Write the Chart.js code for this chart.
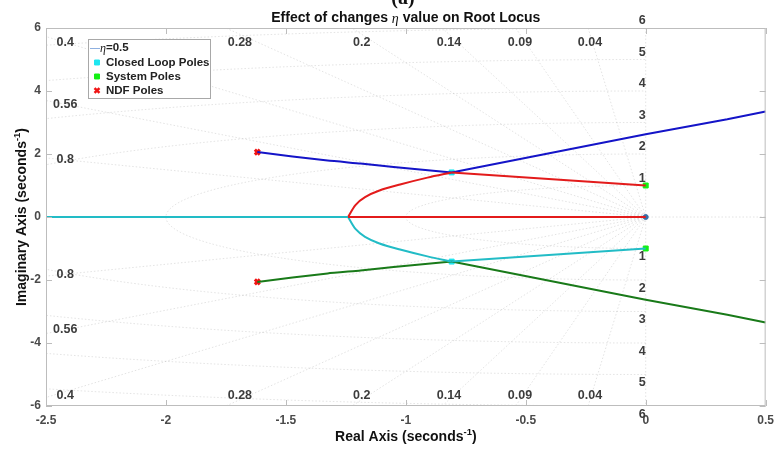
<!DOCTYPE html>
<html>
<head>
<meta charset="utf-8">
<script src="https://cdn.jsdelivr.net/npm/chart.js@4.4.1/dist/chart.umd.min.js"></script>
<style>
  html, body { margin: 0; padding: 0; background: #fff; }
  #wrap { width: 781px; height: 450px; position: relative; }
</style>
</head>
<body>
<div id="wrap"><canvas id="locus"></canvas></div>
<script>
// axis limits and ticks
const realLimits = [-2.5, 0.5];
const imagLimits = [-6, 6];
const realTicks = [-2.5, -2, -1.5, -1, -0.5, 0, 0.5];
const imagTicks = [-6, -4, -2, 0, 2, 4, 6];

// sgrid
const dampingRatios = [0.04, 0.09, 0.14, 0.2, 0.28, 0.4, 0.56, 0.8];
const dampingLabels = ['0.04', '0.09', '0.14', '0.2', '0.28', '0.4', '0.56', '0.8'];
const naturalFreqs = [1, 2, 3, 4, 5, 6];

// locus branches
const negAxisRe = [-2.5, -1.241];
const negAxisIm = [0, 0];
const redAxisRe = [-1.241, 0];
const redAxisIm = [0, 0];
const sysToMarkerRe = [0, -0.809];
const sysToMarkerIm = [1.0, 1.415];
const breakCurveRe = [-0.809, -0.91, -1.02, -1.11, -1.17, -1.21, -1.241];
const breakCurveIm = [1.415, 1.25, 1.04, 0.84, 0.63, 0.38, 0];
const ndfBranchRe = [-1.619, -1.326, -1.189, -1.051, -0.809];
const ndfBranchIm = [2.06, 1.79, 1.70, 1.59, 1.415];
const outBranchRe = [-0.809, 0, 0.34, 0.5];
const outBranchIm = [1.415, 2.63, 3.1, 3.35];

// poles
const closedLoopRe = [-0.809, -0.809];
const closedLoopIm = [1.415, -1.415];
const systemPoleRe = [0, 0];
const systemPoleIm = [1.0, -1.0];
const ndfPoleRe = [-1.619, -1.619];
const ndfPoleIm = [2.06, -2.06];
const originRe = [0];
const originIm = [0];

const COLORS = {
  blue: '#1414c8',
  red: '#e31b1b',
  cyan: '#22bcc6',
  green: '#197a19',
  cyanMark: '#1ee6f0',
  greenMark: '#14f014',
  redMark: '#f01414',
  grid: 'rgba(150,150,150,0.38)',
  text: '#4a4a4a'
};

const pts = (re, im, flip) => re.map((x, i) => ({ x, y: flip ? -im[i] : im[i] }));

function lineSet(label, data, color, tension) {
  return {
    label, data, showLine: true, borderColor: color, borderWidth: 2,
    pointRadius: 0, tension: tension || 0, fill: false
  };
}

function markSet(label, data, style, color, radius) {
  return {
    label, data, showLine: false, pointStyle: style, pointRadius: radius,
    backgroundColor: color, borderColor: color, borderWidth: style === 'crossRot' ? 3 : 1
  };
}

const sgridPlugin = {
  id: 'sgrid',
  beforeDatasetsDraw(chart) {
    const { ctx, chartArea: a, scales: { x, y } } = chart;
    const ox = x.getPixelForValue(0), oy = y.getPixelForValue(0);
    const kx = x.getPixelForValue(1) - ox, ky = oy - y.getPixelForValue(1);
    ctx.save();
    ctx.beginPath();
    ctx.rect(a.left, a.top, a.right - a.left, a.bottom - a.top);
    ctx.clip();
    ctx.strokeStyle = COLORS.grid;
    ctx.lineWidth = 0.7;
    ctx.setLineDash([1.5, 2]);
    dampingRatios.forEach((z) => {
      const s = Math.sqrt(1 - z * z);
      [1, -1].forEach((sign) => {
        ctx.beginPath();
        ctx.moveTo(ox, oy);
        ctx.lineTo(x.getPixelForValue(-20 * z), y.getPixelForValue(sign * 20 * s));
        ctx.stroke();
      });
    });
    naturalFreqs.forEach((w) => {
      ctx.beginPath();
      ctx.ellipse(ox, oy, w * kx, w * ky, 0, Math.PI / 2, Math.PI * 1.5);
      ctx.stroke();
    });
    ctx.beginPath();
    ctx.moveTo(a.left, oy); ctx.lineTo(a.right, oy);
    ctx.moveTo(ox, a.top); ctx.lineTo(ox, a.bottom);
    ctx.stroke();
    ctx.restore();
  },
  afterDatasetsDraw(chart) {
    const { ctx, chartArea: a, scales: { x, y } } = chart;
    ctx.save();
    // box + inner ticks
    ctx.strokeStyle = '#bdbdbd';
    ctx.lineWidth = 1;
    ctx.strokeRect(a.left + 0.5, a.top + 0.5, a.right - a.left - 1, a.bottom - a.top - 1);
    ctx.beginPath();
    realTicks.forEach((v) => {
      const px = Math.round(x.getPixelForValue(v)) + 0.5;
      ctx.moveTo(px, a.bottom); ctx.lineTo(px, a.bottom - 6);
      ctx.moveTo(px, a.top); ctx.lineTo(px, a.top + 6);
    });
    imagTicks.forEach((v) => {
      const py = Math.round(y.getPixelForValue(v)) + 0.5;
      ctx.moveTo(a.left, py); ctx.lineTo(a.left + 6, py);
      ctx.moveTo(a.right, py); ctx.lineTo(a.right - 6, py);
    });
    ctx.stroke();

    // damping labels
    ctx.fillStyle = '#3c3c3c';
    ctx.font = 'bold 12.5px "Liberation Sans", Arial, sans-serif';
    ctx.textAlign = 'center';
    ctx.textBaseline = 'middle';
    dampingRatios.forEach((z, i) => {
      const s = Math.sqrt(1 - z * z);
      let re = -5.8 * z / s, im = 5.55;
      if (re < -2.42) { re = -2.42; im = 2.42 * s / z; }
      const lx = x.getPixelForValue(re);
      ctx.fillText(dampingLabels[i], lx, y.getPixelForValue(im));
      ctx.fillText(dampingLabels[i], lx, y.getPixelForValue(im > 5 ? -5.68 : -im));
    });
    // natural frequency labels
    ctx.textAlign = 'right';
    naturalFreqs.forEach((w) => {
      const lx = x.getPixelForValue(0);
      ctx.textBaseline = 'bottom';
      ctx.fillText(String(w), lx, y.getPixelForValue(w) - 1);
      ctx.textBaseline = 'top';
      ctx.fillText(String(w), lx, y.getPixelForValue(-w) + 2);
    });

    // legend
    const L = { x: 88, y: 39, w: 122, h: 59 };
    ctx.fillStyle = '#fff';
    ctx.fillRect(L.x, L.y, L.w, L.h);
    ctx.strokeStyle = '#a8a8a8';
    ctx.strokeRect(L.x + 0.5, L.y + 0.5, L.w, L.h);
    ctx.textAlign = 'left';
    ctx.textBaseline = 'middle';
    ctx.fillStyle = '#222';
    ctx.strokeStyle = '#8fb0e0';
    ctx.beginPath(); ctx.moveTo(90, 48.5); ctx.lineTo(100, 48.5); ctx.stroke();
    ctx.font = 'italic 12px "Liberation Serif", serif';
    ctx.fillText('\u03b7', 100, 49);
    ctx.font = 'bold 11.5px "Liberation Sans", Arial, sans-serif';
    ctx.fillText('=0.5', 106, 48);
    const rows = [
      ['Closed Loop Poles', COLORS.cyanMark, 'rect', 62.5],
      ['System Poles', COLORS.greenMark, 'rect', 76.5],
      ['NDF Poles', COLORS.redMark, 'crossRot', 90.5]
    ];
    rows.forEach(([t, c, st, ry]) => {
      ctx.fillStyle = c; ctx.strokeStyle = c;
      const bw = st === 'crossRot' ? 2.5 : 1;
      ctx.lineWidth = bw;
      Chart.helpers.drawPoint(ctx, { pointStyle: st, radius: 3.5, rotation: 0, borderWidth: bw }, 97, ry);
      ctx.fillStyle = '#222';
      ctx.fillText(t, 106, ry);
    });
    ctx.restore();
  },
  afterDraw(chart) {
    const { ctx, chartArea: a } = chart;
    const cx = (a.left + a.right) / 2;
    ctx.save();
    ctx.fillStyle = '#111';
    // "(a)" peeking above
    ctx.font = 'bold 20px "Liberation Serif", serif';
    ctx.textAlign = 'center';
    ctx.textBaseline = 'alphabetic';
    ctx.fillText('(a)', 403, 4);
    // title
    const p1 = 'Effect of changes ', eta = '\u03b7', p2 = ' value on Root Locus';
    const fb = 'bold 14px "Liberation Sans", Arial, sans-serif';
    const fe = 'italic 14px "Liberation Serif", serif';
    ctx.font = fb; const w1 = ctx.measureText(p1).width, w3 = ctx.measureText(p2).width;
    ctx.font = fe; const w2 = ctx.measureText(eta).width;
    let sx = cx - (w1 + w2 + w3) / 2;
    ctx.textAlign = 'left';
    ctx.textBaseline = 'middle';
    ctx.font = fb; ctx.fillText(p1, sx, 18); sx += w1;
    ctx.font = fe; ctx.fillText(eta, sx, 19); sx += w2;
    ctx.font = fb; ctx.fillText(p2, sx, 18);

    // axis titles with superscript
    const fs = 'bold 9.5px "Liberation Sans", Arial, sans-serif';
    const drawSup = (base, cxp, cyp) => {
      ctx.font = fb;
      const wb = ctx.measureText(base).width;
      ctx.font = fs;
      const ws = ctx.measureText('-1').width;
      ctx.font = fb;
      const wc = ctx.measureText(')').width;
      let px = cxp - (wb + ws + wc) / 2;
      ctx.textAlign = 'left';
      ctx.textBaseline = 'middle';
      ctx.fillText(base, px, cyp); px += wb;
      ctx.font = fs;
      ctx.fillText('-1', px, cyp - 5); px += ws;
      ctx.font = fb;
      ctx.fillText(')', px, cyp);
    };
    drawSup('Real Axis (seconds', cx, 437);
    ctx.save();
    ctx.translate(22, (a.top + a.bottom) / 2);
    ctx.rotate(-Math.PI / 2);
    drawSup('Imaginary Axis (seconds', 0, 0);
    ctx.restore();
    ctx.restore();
  }
};

const tickFont = { family: '"Liberation Sans", Arial, sans-serif', size: 12, weight: 'bold' };
const fmt = (v) => String(v);

new Chart(document.getElementById('locus'), {
  type: 'scatter',
  data: {
    datasets: [
      lineSet('neg axis', pts(negAxisRe, negAxisIm), COLORS.cyan),
      lineSet('red axis', pts(redAxisRe, redAxisIm), COLORS.red),
      lineSet('red upper', pts(sysToMarkerRe, sysToMarkerIm), COLORS.red),
      lineSet('red curve', pts(breakCurveRe, breakCurveIm), COLORS.red, 0.3),
      lineSet('cyan lower', pts(sysToMarkerRe, sysToMarkerIm, true), COLORS.cyan),
      lineSet('cyan curve', pts(breakCurveRe, breakCurveIm, true), COLORS.cyan, 0.3),
      lineSet('blue ndf', pts(ndfBranchRe, ndfBranchIm), COLORS.blue, 0.15),
      lineSet('blue out', pts(outBranchRe, outBranchIm), COLORS.blue),
      lineSet('green ndf', pts(ndfBranchRe, ndfBranchIm, true), COLORS.green, 0.15),
      lineSet('green out', pts(outBranchRe, outBranchIm, true), COLORS.green),
      markSet('Closed Loop Poles', pts(closedLoopRe, closedLoopIm), 'rect', COLORS.cyanMark, 3.5),
      markSet('System Poles', pts(systemPoleRe, systemPoleIm), 'rect', COLORS.greenMark, 3.5),
      markSet('NDF Poles', pts(ndfPoleRe, ndfPoleIm), 'crossRot', COLORS.redMark, 3.5),
      markSet('origin', pts(originRe, originIm), 'circle', '#3a6ea5', 2.5)
    ]
  },
  options: {
    responsive: true,
    maintainAspectRatio: false,
    animation: false,
    devicePixelRatio: 1,
    layout: { padding: { top: 28, right: 9, bottom: 0, left: 0 } },
    plugins: { legend: { display: false }, tooltip: { enabled: false }, title: { display: false } },
    scales: {
      x: {
        type: 'linear', min: realLimits[0], max: realLimits[1],
        afterFit: (s) => { s.height = 44; },
        afterBuildTicks: (s) => { s.ticks = realTicks.map((v) => ({ value: v })); },
        grid: { display: false, drawTicks: false },
        border: { display: false },
        ticks: { color: COLORS.text, font: tickFont, padding: 7, maxRotation: 0, autoSkip: false, callback: fmt }
      },
      y: {
        type: 'linear', min: imagLimits[0], max: imagLimits[1],
        afterFit: (s) => { s.width = 46; },
        afterBuildTicks: (s) => { s.ticks = imagTicks.map((v) => ({ value: v })); },
        grid: { display: false, drawTicks: false },
        border: { display: false },
        ticks: { color: COLORS.text, font: tickFont, padding: 5, autoSkip: false, callback: fmt }
      }
    }
  },
  plugins: [sgridPlugin]
});
</script>
</body>
</html>
